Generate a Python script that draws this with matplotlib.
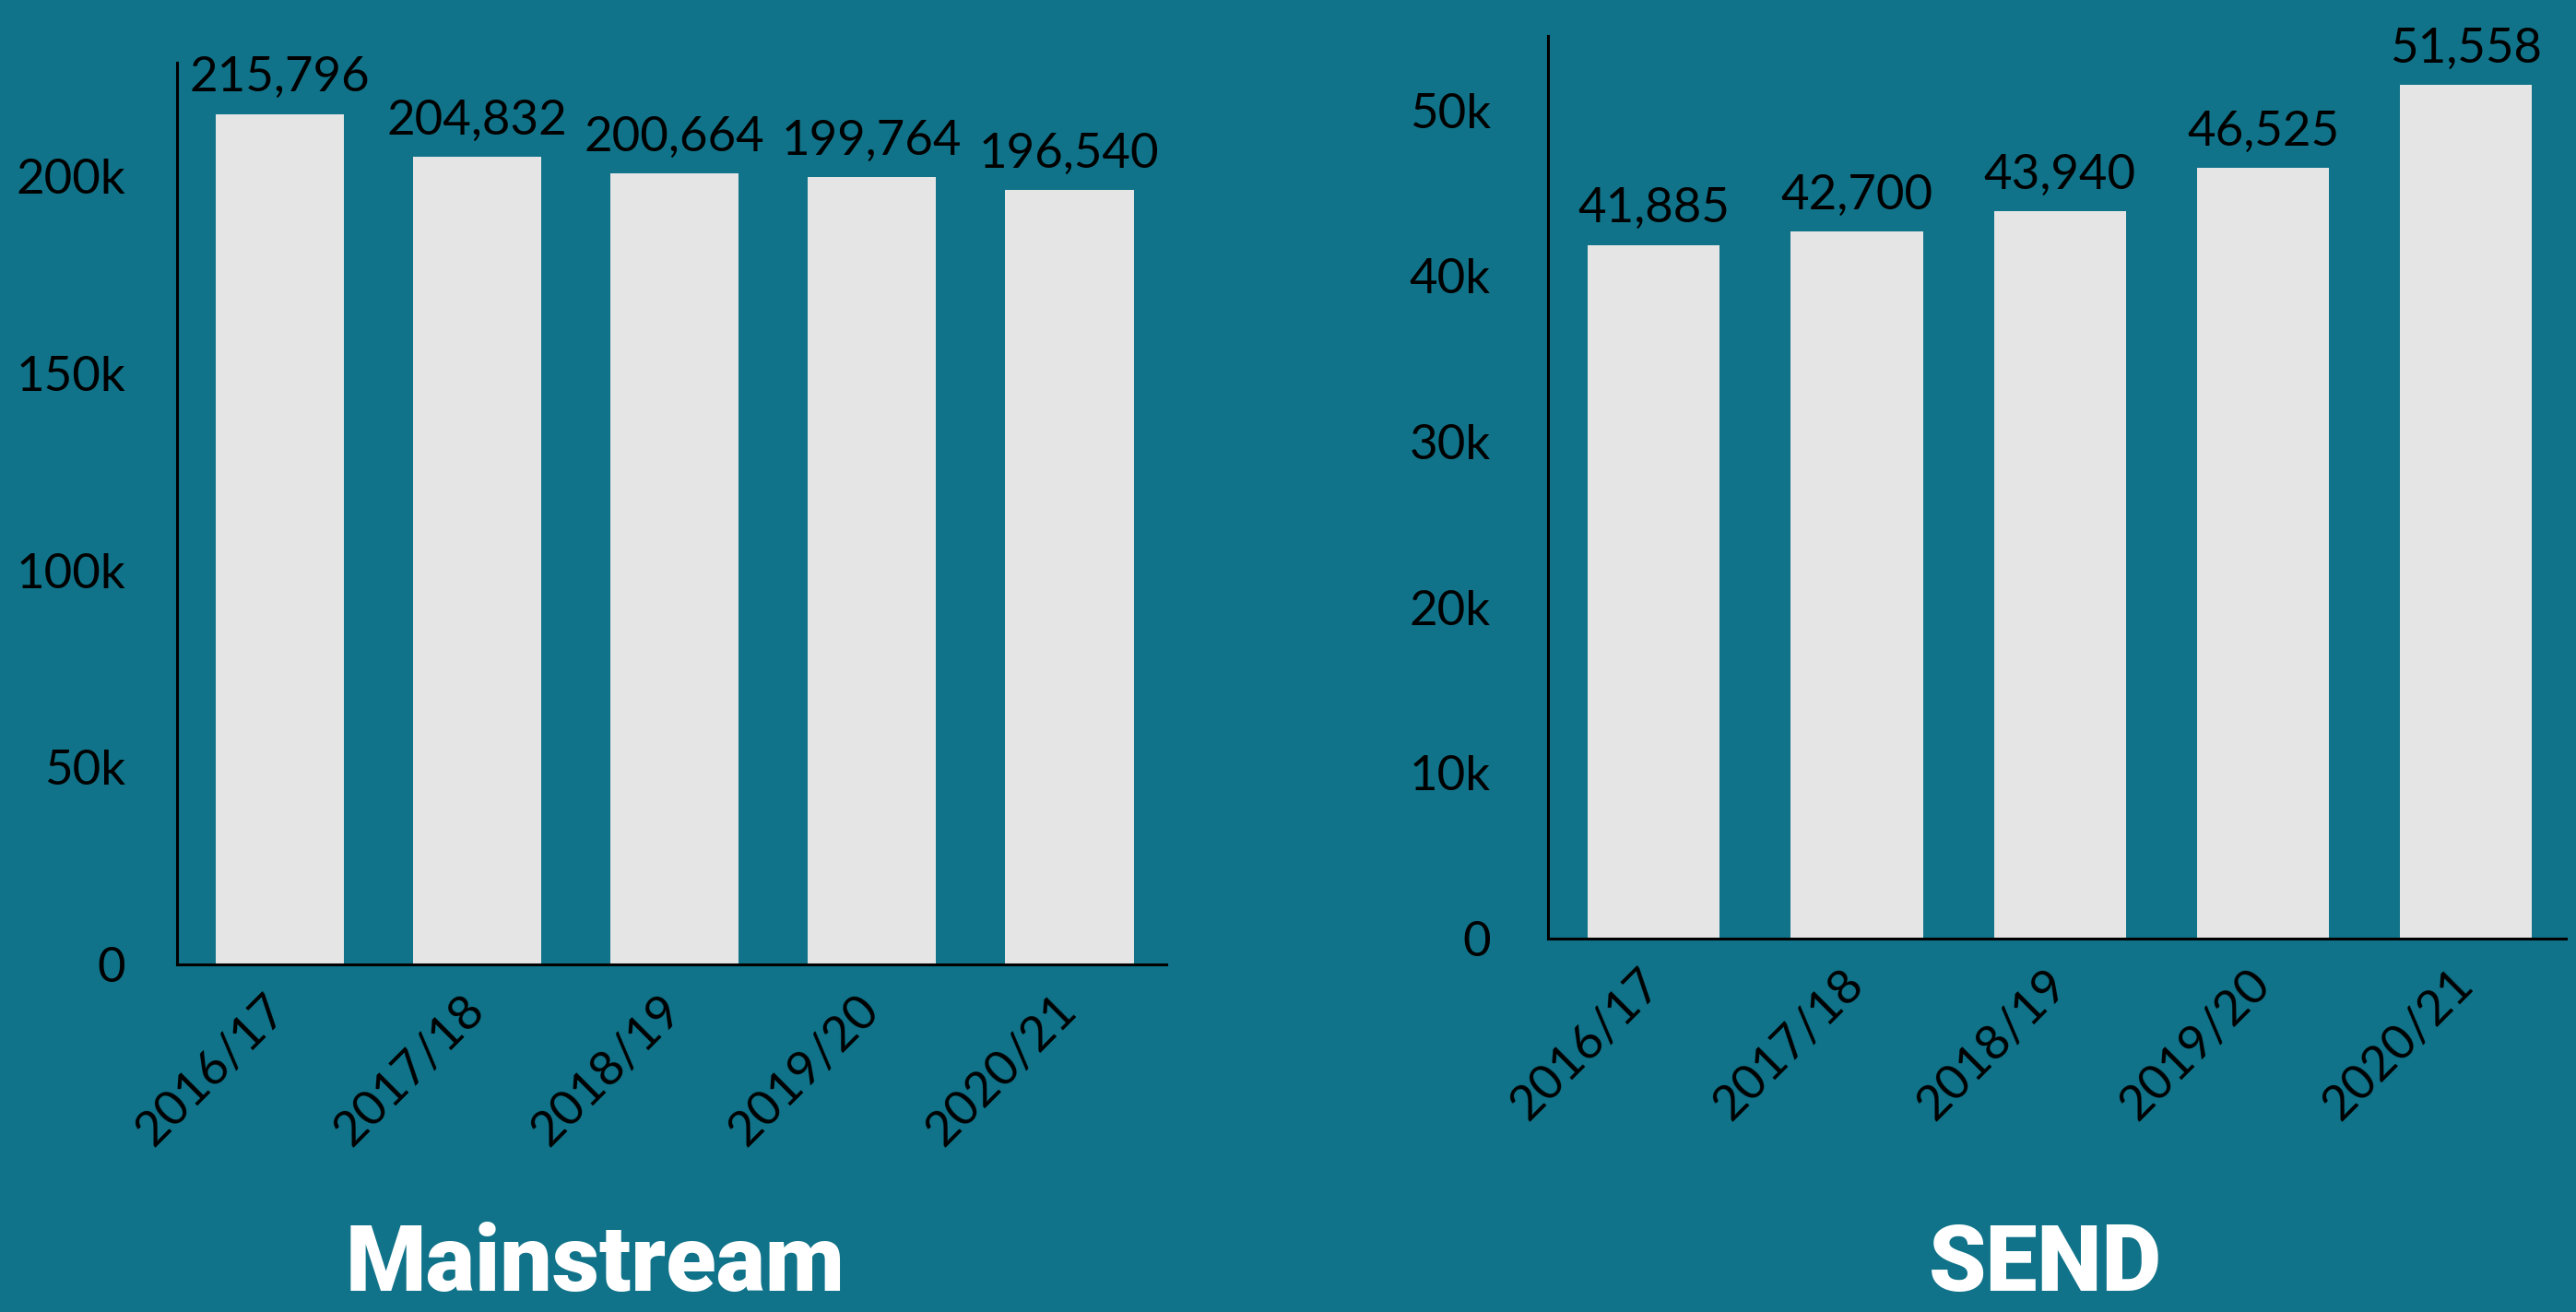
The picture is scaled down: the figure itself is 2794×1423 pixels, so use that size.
import matplotlib
matplotlib.use('Agg')
import matplotlib.pyplot as plt
from matplotlib.ticker import FuncFormatter

# data
years = ['2016/17', '2017/18', '2018/19', '2019/20', '2020/21']
mainstream = [215796, 204832, 200664, 199764, 196540]
send = [41885, 42700, 43940, 46525, 51558]

BG = '#107389'
BAR = '#e5e5e5'

plt.rcParams['font.family'] = ['Lato', 'DejaVu Sans']

fig = plt.figure(figsize=(27.94, 14.23), dpi=100, facecolor=BG)
ax1 = fig.add_axes([0.0687, 0.2649, 0.384, 0.687])
ax2 = fig.add_axes([0.601, 0.2846, 0.395, 0.688])


def kfmt(v, pos):
    if v == 0:
        return '0'
    return f'{int(v / 1000)}k'


def draw(ax, values, ymax, step, ypad):
    ax.set_facecolor(BG)
    x = range(len(values))
    bars = ax.bar(x, values, width=0.65, color=BAR, zorder=2)
    ax.bar_label(bars, labels=[f'{v:,}' for v in values], padding=11,
                 fontsize=38, color='black')
    ax.set_xlim(-0.52, 4.49)
    ax.set_ylim(0, ymax)
    ax.set_yticks(range(0, int(ymax), step))
    ax.yaxis.set_major_formatter(FuncFormatter(kfmt))
    ax.set_xticks(list(x))
    ax.set_xticklabels(years, rotation=45, ha='right', va='center',
                       rotation_mode='anchor')
    ax.tick_params(axis='both', length=0, labelsize=38, colors='black')
    ax.tick_params(axis='y', pad=ypad)
    ax.tick_params(axis='x', pad=30)
    for s in ['top', 'right']:
        ax.spines[s].set_visible(False)
    for s in ['left', 'bottom']:
        ax.spines[s].set_linewidth(2.2)
        ax.spines[s].set_color('black')


draw(ax1, mainstream, 228700, 50000, 40)
draw(ax2, send, 54500, 10000, 45)

fig.text(0.231, 0.016, 'Mainstream', ha='center', va='baseline', fontsize=72,
         fontweight='black', family='Roboto', color='white')
fig.text(0.794, 0.016, 'SEND', ha='center', va='baseline', fontsize=72,
         fontweight='black', family='Roboto', color='white')

fig.savefig('out.png', dpi=100, facecolor=BG)
